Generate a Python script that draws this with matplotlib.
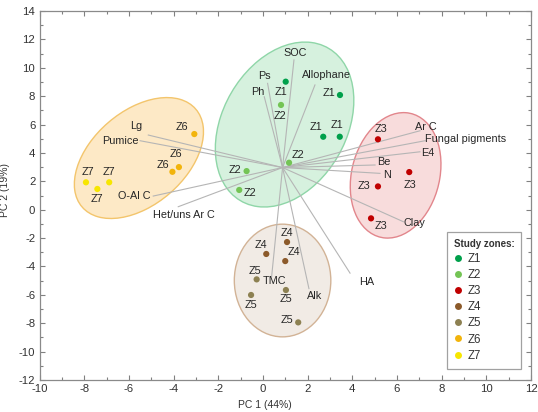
import numpy as np
import matplotlib
matplotlib.use('Agg')
import matplotlib.pyplot as plt
from matplotlib.patches import Ellipse
from matplotlib.lines import Line2D
from matplotlib.ticker import MultipleLocator

plt.rcParams['font.family'] = ['Liberation Sans', 'DejaVu Sans']
plt.rcParams['axes.unicode_minus'] = False

# ---------------- data ----------------
zones = ['Z1', 'Z2', 'Z3', 'Z4', 'Z5', 'Z6', 'Z7']
zone_colors = ['#00a04b', '#74c455', '#c00000', '#8c5a2a', '#8d8152', '#f2b40c', '#f7e600']

sample_zone = ['Z1', 'Z1', 'Z1', 'Z1',
               'Z2', 'Z2', 'Z2', 'Z2',
               'Z3', 'Z3', 'Z3', 'Z3',
               'Z4', 'Z4', 'Z4',
               'Z5', 'Z5', 'Z5', 'Z5',
               'Z6', 'Z6', 'Z6',
               'Z7', 'Z7', 'Z7']
sample_pc1 = [1.02, 3.45, 2.70, 3.44,
              0.81, 1.17, -0.73, -1.06,
              5.15, 6.55, 5.15, 4.84,
              1.08, 0.15, 1.00,
              -0.28, -0.53, 1.03, 1.58,
              -3.07, -3.76, -4.05,
              -7.92, -7.41, -6.88]
sample_pc2 = [9.02, 8.08, 5.14, 5.14,
              7.38, 3.31, 2.72, 1.39,
              4.96, 2.65, 1.64, -0.61,
              -2.28, -3.12, -3.62,
              -4.91, -6.01, -5.66, -7.94,
              5.33, 3.00, 2.67,
              1.93, 1.46, 1.93]
# label offsets (pixels, right / up)
sample_label_dx = [-5, -11.3, -7.3, -3,
                   -1, 9.3, -11.7, 10.7,
                   2.7, 0.7, -14, 9.7,
                   0, -5.3, 9,
                   -1.7, 0, 0, -11,
                   -12.6, -3.3, -9,
                   2.3, -0.6, 0]
sample_label_dy = [-10, 2.3, 10, 11.7,
                   -11, 7.7, 1, -3.3,
                   10, -13.3, 0, -7.7,
                   9.3, 9, 8.7,
                   8.3, -10, -8.7, 2.3,
                   7.3, 13, 6.7,
                   10, -10, 10]

variables = ['SOC', 'Ps', 'Ph', 'Allophane', 'Lg', 'Pumice', 'O-Al C', 'Het/uns Ar C',
             'Ar C', 'Fungal pigments', 'E4', 'Be', 'N', 'Clay', 'TMC', 'Alk', 'HA']
load_pc1 = [1.39, 0.21, 0.06, 2.33, -5.13, -5.50, -4.91, -3.79,
            7.03, 7.26, 7.03, 5.02, 5.24, 6.29, 0.39, 2.06, 3.90]
load_pc2 = [10.55, 8.90, 7.96, 8.79, 5.26, 4.86, 0.96, 0.21,
            5.56, 4.86, 4.08, 3.15, 2.56, -0.85, -4.72, -5.56, -4.47]
load_origin = (0.88, 2.97)
load_label_dx = [1, -2.7, -6, 11.7, -12.3, -1, -3, 5.7,
                 6, 0, 7.3, 8.3, 6.7, 10.7, 3.3, 6, 16.7]
load_label_dy = [6.7, 7.6, 4.4, 10, 9, 0, 0, -8.3,
                 4, 1.7, -1, 2.7, -2, -1.6, -4.3, -7, -8.4]
load_label_ha = ['center', 'center', 'center', 'center', 'center', 'right', 'right', 'center',
                 'center', 'left', 'center', 'center', 'center', 'center', 'center', 'center', 'center']

# group ellipses: centre, x half-extent, y half-extent, correlation
ell_cx = [-5.55, 0.97, 5.94, 0.88]
ell_cy = [3.64, 6.00, 2.42, -4.99]
ell_hx = [2.89, 3.10, 2.03, 2.16]
ell_hy = [4.26, 5.81, 4.42, 3.97]
ell_r = [0.434, 0.293, 0.176, 0.0]
ell_face = ['#fde9c6', '#d6f1de', '#f8dcdc', '#f1ebe5']
ell_edge = ['#f3c56c', '#8fd6a8', '#e2868c', '#d2b396']

x_ticks = list(range(-10, 13, 2))
y_ticks = list(range(-12, 15, 2))

# ---------------- figure ----------------
W, H, DPI = 538, 412, 100
fig = plt.figure(figsize=(W / DPI, H / DPI), dpi=DPI)
ax = fig.add_axes([39.5 / W, 1 - 380 / H, (531 - 39.5) / W, (380 - 11) / H])
ax.set_xlim(-10, 12)
ax.set_ylim(-12, 14)

txt_color = '#262626'
fs = 7.8

for cx, cy, hx, hy, r, fc, ec in zip(ell_cx, ell_cy, ell_hx, ell_hy, ell_r, ell_face, ell_edge):
    C = np.array([[hx * hx, r * hx * hy], [r * hx * hy, hy * hy]])
    vals, vecs = np.linalg.eigh(C)
    order = np.argsort(vals)[::-1]
    vals = vals[order]
    vecs = vecs[:, order]
    ang = np.degrees(np.arctan2(vecs[1, 0], vecs[0, 0]))
    e = Ellipse((cx, cy), 2 * np.sqrt(vals[0]), 2 * np.sqrt(vals[1]), angle=ang,
                facecolor=fc, edgecolor=ec, lw=1.0, zorder=1)
    ax.add_patch(e)

# loading lines
for name, lx, ly, dx, dy, ha in zip(variables, load_pc1, load_pc2, load_label_dx, load_label_dy, load_label_ha):
    ax.plot([load_origin[0], lx], [load_origin[1], ly], color='#b5b5b5', lw=0.8, zorder=2)
    ax.annotate(name, (lx, ly), xytext=(dx, dy), textcoords='offset pixels',
                ha=ha, va='center', fontsize=fs, color=txt_color, zorder=4)

# sample points
color_of = dict(zip(zones, zone_colors))
for z, px, py, dx, dy in zip(sample_zone, sample_pc1, sample_pc2, sample_label_dx, sample_label_dy):
    ax.scatter([px], [py], s=20, color=color_of[z], edgecolors='none', zorder=5)
    ax.annotate(z, (px, py), xytext=(dx, dy), textcoords='offset pixels',
                ha='center', va='center', fontsize=fs, color=txt_color, zorder=4)

# axes styling
ax.set_xticks(x_ticks)
ax.set_yticks(y_ticks)
ax.xaxis.set_minor_locator(MultipleLocator(1))
ax.yaxis.set_minor_locator(MultipleLocator(1))
ax.tick_params(which='both', direction='in', top=True, right=True, color='#808080',
               labelsize=8.2, labelcolor='#333333', width=0.8)
ax.tick_params(which='major', length=3.5, pad=3)
ax.tick_params(which='minor', length=2)
for sp in ax.spines.values():
    sp.set_color('#8a8a8a')
    sp.set_linewidth(0.9)

fig.text(265 / W, 1 - 405 / H, 'PC 1 (44%)', ha='center', va='center', fontsize=7.5, color='#333333')
fig.text(5 / W, 1 - 190 / H, 'PC 2 (19%)', ha='center', va='center', rotation=90, fontsize=7.5, color='#333333')

# legend
handles = [Line2D([0], [0], marker='o', linestyle='none', markersize=5,
                  markerfacecolor=c, markeredgecolor='none') for c in zone_colors]
leg = ax.legend(handles, zones, title='Study zones:', loc='upper left',
                bbox_to_anchor=(446.7 / W, 1 - 231.7 / H), bbox_transform=fig.transFigure,
                frameon=True, fancybox=False, fontsize=8.3, title_fontsize=7,
                handletextpad=0.4, handlelength=0.8, labelspacing=0.36, borderpad=0.6,
                borderaxespad=0)
leg.get_frame().set_edgecolor('#8a8a8a')
leg.get_frame().set_linewidth(0.9)
leg.get_title().set_fontweight('bold')
leg.get_title().set_color('#333333')
leg._legend_box.align = 'left'
for t in leg.get_texts():
    t.set_color('#333333')

fig.savefig('out.png', dpi=DPI)
